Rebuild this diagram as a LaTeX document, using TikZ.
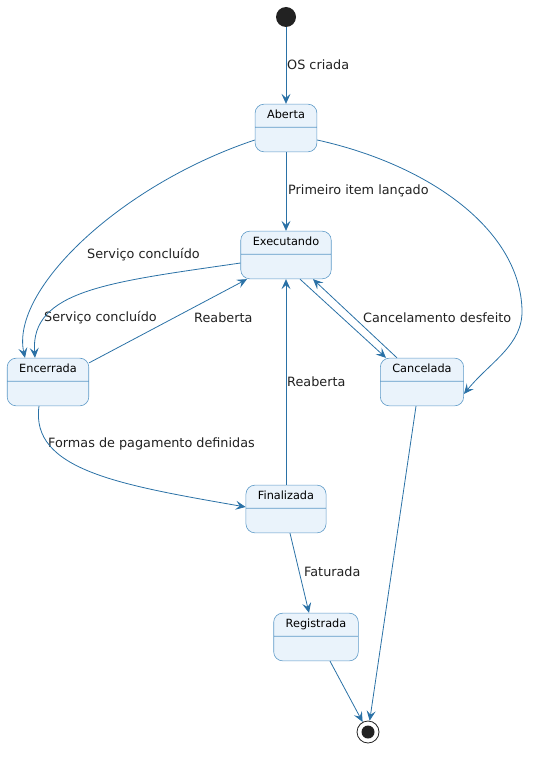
\documentclass[tikz,border=0pt]{standalone}
\usepackage{fontspec}
\setmainfont{DejaVu Sans}
\usetikzlibrary{shapes.multipart,arrows.meta}

\definecolor{edgeblue}{RGB}{42,113,166}
\definecolor{stateline}{RGB}{95,155,200}
\definecolor{statefill}{RGB}{234,243,251}
\definecolor{dotcol}{RGB}{34,34,34}

\tikzset{
  state/.style={rectangle split, rectangle split parts=2,
    draw=stateline, fill=statefill, rounded corners=9pt,
    inner xsep=12pt, inner ysep=6pt,
    text height=8pt, text depth=2.5pt,
    rectangle split empty part height=12pt,
    rectangle split empty part depth=0pt,
    font=\fontsize{11.3}{13}\selectfont, line width=0.6pt},
  trans/.style={draw=edgeblue, line width=0.8pt,
    -{Stealth[length=10pt,width=9pt,inset=4pt]}},
  tlabel/.style={font=\fontsize{12.8}{15}\selectfont,
    inner sep=0pt, anchor=west, text=black!87}
}

\begin{document}
\begin{tikzpicture}[x=1pt,y=-1pt]

    \useasboundingbox (0,0) rectangle (544,757);

    \node[circle, fill=dotcol, minimum size=20pt, inner sep=0pt] (start) at (286,17) {};

    \node[state] (aberta) at (286,128) {Aberta \nodepart{two}};
    \node[state] (exec) at (286,255) {Executando \nodepart{two}};
    \node[state] (encer) at (48,382) {Encerrada \nodepart{two}};
    \node[state] (cancel) at (422,382) {Cancelada \nodepart{two}};
    \node[state] (final) at (286,509) {Finalizada \nodepart{two}};
    \node[state] (regis) at (316,637) {Registrada \nodepart{two}};

    \node[circle, draw=dotcol, line width=0.8pt, minimum size=22pt, inner sep=0pt,
      path picture={\fill[dotcol] (path picture bounding box.center) circle (6.5pt);}] (stop) at (368,732) {};

    \node[tlabel] (l1) at (287,65) {OS criada};
    \node[tlabel] (l2) at (288,191) {Primeiro item lançado};
    \node[tlabel] (l3) at (87,255) {Serviço concluído};
    \node[tlabel] (l4) at (44,318) {Serviço concluído};
    \node[tlabel] (l5) at (194,318) {Reaberta};
    \node[tlabel] (l6) at (363,318) {Cancelamento desfeito};
    \node[tlabel] (l7) at (287,382) {Reaberta};
    \node[tlabel] (l8) at (48,444) {Formas de pagamento definidas};
    \node[tlabel] (l9) at (304,572) {Faturada};

    \coordinate (bend) at (522,310);

      \draw[trans] (start) -- (aberta);
      \draw[trans] (aberta) -- (exec);
      \draw[trans] ([yshift=-12pt]aberta.west) .. controls (120,185) and (10,290) .. ([xshift=-23pt]encer.north);
      \draw[trans] ([yshift=-12pt]aberta.east) .. controls (430,165) and (520,230) .. (bend)
                   .. controls (523,345) and (490,362) .. ([yshift=-12pt]cancel.east);
      \draw[trans] ([yshift=-8pt]exec.west) .. controls (110,282) and (30,290) .. ([xshift=-13pt]encer.north);
      \draw[trans] ([yshift=-5pt]encer.north east) -- ([xshift=-39pt]exec.south);
      \draw[trans] ([xshift=14pt]exec.south) -- ([xshift=-36pt]cancel.north);
      \draw[trans] ([xshift=-25pt]cancel.north) -- ([xshift=27pt]exec.south);
      \draw[trans] (final) -- (exec);
      \draw[trans] ([xshift=-9pt]encer.south) .. controls (30,470) and (120,485) .. ([yshift=2pt]final.west);
      \draw[trans] ([xshift=4pt]final.south) -- ([xshift=-7pt]regis.north);
      \draw[trans] ([xshift=14pt]regis.south) -- (stop);
      \draw[trans] ([xshift=-6pt]cancel.south) -- (stop);
  \end{tikzpicture}
\end{document}
